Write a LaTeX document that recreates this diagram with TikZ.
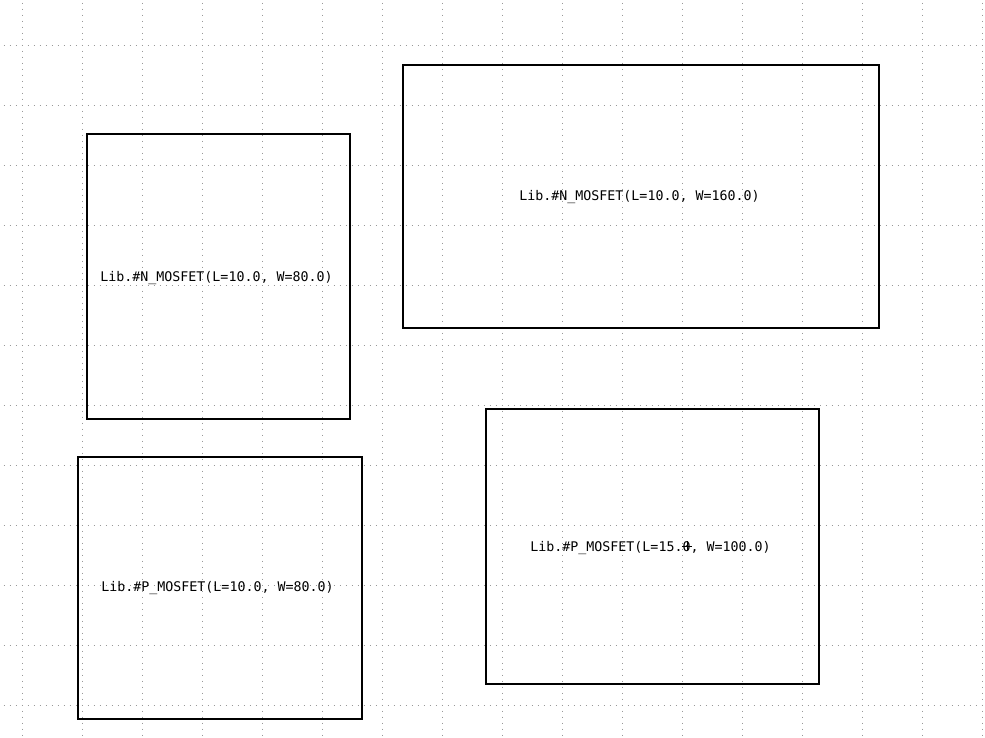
\documentclass[tikz,border=0pt]{standalone}
\usepackage{fontspec}
\setmonofont{DejaVu Sans Mono}

\tikzstyle{cell} = [draw, line width=1.1pt, inner sep=0pt]
\tikzstyle{tag} = [font=\ttfamily\fontsize{13.3}{15}\selectfont]
\tikzstyle{griddot} = [gray!80, line width=1pt, dash pattern=on 1pt off 5pt]

\begin{document}
\begin{tikzpicture}[x=1pt, y=-1pt]
\useasboundingbox (0,0) rectangle (985,737);
% dotted grid
\foreach \gx in {22,82,...,982}
    \draw[griddot] (\gx,2.5) -- (\gx,737);
\foreach \gy in {45,105,...,705}
    \draw[griddot] (3.5,\gy) -- (985,\gy);

\node[cell, minimum width=263pt, minimum height=285pt] (nmosA) at (218.5,276.5) {};
\node[tag] (nmosAtext) at (216.5,278.5) {Lib.\#N\_MOSFET(L=10.0, W=80.0)};
\node[cell, minimum width=476pt, minimum height=263pt] (nmosB) at (641,196.5) {};
\node[tag] (nmosBtext) at (639.5,197) {Lib.\#N\_MOSFET(L=10.0, W=160.0)};
\node[cell, minimum width=284pt, minimum height=262pt] (pmosA) at (220,588) {};
\node[tag] (pmosAtext) at (217.5,588.5) {Lib.\#P\_MOSFET(L=10.0, W=80.0)};
\node[cell, minimum width=333pt, minimum height=275pt] (pmosB) at (652.5,546.5) {};
\node[tag] (pmosBtext) at (650.5,548) {Lib.\#P\_MOSFET(L=15.0, W=100.0)};

% cursor mark
\draw[line width=0.6pt] (682,546) -- (692,546) (687,541) -- (687,551);
\end{tikzpicture}
\end{document}
